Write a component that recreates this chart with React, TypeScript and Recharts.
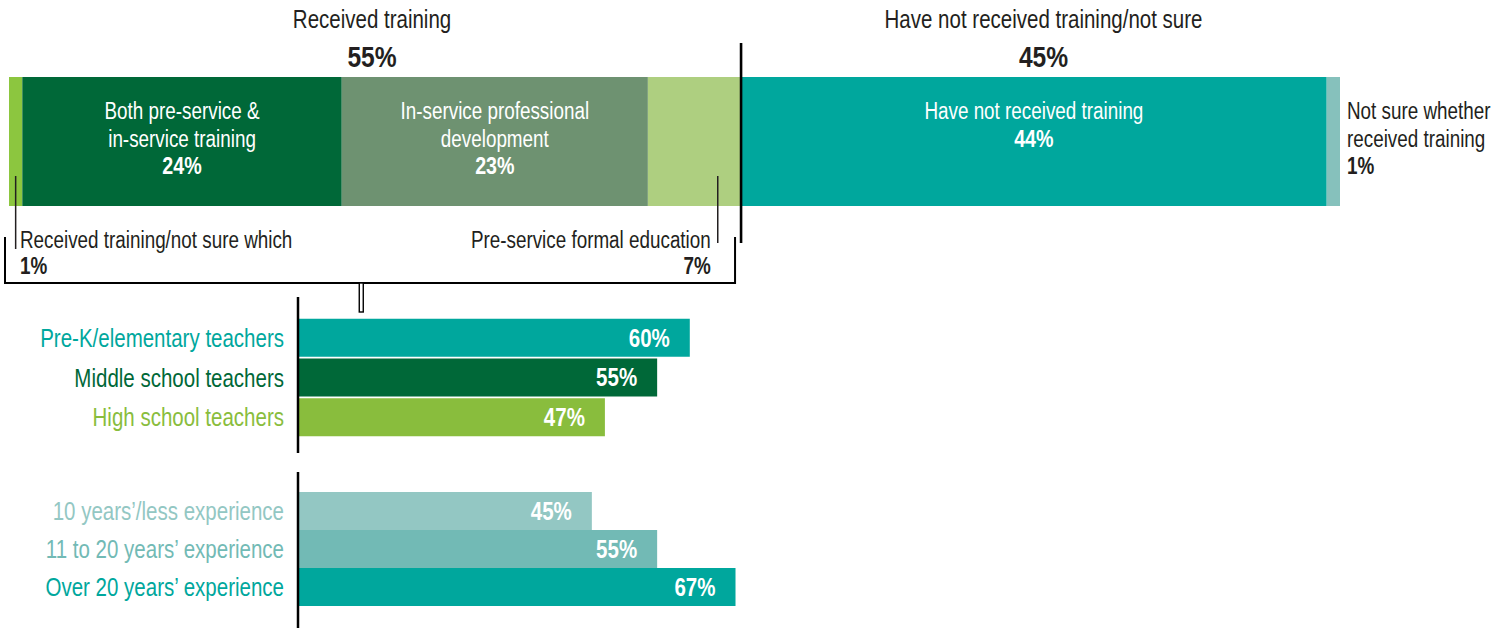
import { BarChart, Bar, XAxis, YAxis, Cell, LabelList } from 'recharts';

// condensed look: Liberation Sans squeezed horizontally
const FONT = "'Liberation Sans', Arial, sans-serif";
const SQUEEZE = 0.82;
const INK = '#231f20';

// top stacked bar: all teachers
const topKeys = ['unsureWhich', 'both', 'inService', 'preService', 'notReceived', 'unsureWhether'];
const topValues = [1, 24, 23, 7, 44, 1];
const topColors = ['#8cc63f', '#006838', '#6e9271', '#aecf80', '#00a79d', '#86c1bc'];
const topInside = [
  [],
  ['Both pre-service &', 'in-service training'],
  ['In-service professional', 'development'],
  [],
  ['Have not received training'],
  [],
];
const topOutside = [
  ['Received training/not sure which'],
  [],
  [],
  ['Pre-service formal education'],
  [],
  ['Not sure whether', 'received training'],
];
const groupTitles = ['Received training', 'Have not received training/not sure'];
const groupTotals = [55, 45];

// by grade level
const levelNames = ['Pre-K/elementary teachers', 'Middle school teachers', 'High school teachers'];
const levelValues = [60, 55, 47];
const levelColors = ['#00a79d', '#006838', '#89bd3d'];

// by experience
const expNames = ['10 years\u2019/less experience', '11 to 20 years\u2019 experience', 'Over 20 years\u2019 experience'];
const expValues = [45, 55, 67];
const expColors = ['#93c7c3', '#72bab5', '#00a79d'];

const topRow: any = { name: 'All teachers' };
topKeys.forEach((k, i) => { topRow[k] = topValues[i]; });

const LINE = 27.6;

function NText({ x, y, anchor = 'start', size = 23, bold = false, fill = INK, dy, children }: any) {
  return (
    <text
      transform={`translate(${x},${y}) scale(${SQUEEZE},1)`}
      dy={dy}
      textAnchor={anchor}
      fontSize={size}
      fontWeight={bold ? 'bold' : 'normal'}
      fill={fill}
      fontFamily={FONT}
    >
      {children}
    </text>
  );
}

const renderTopLabel = (i: number) => (props: any) => {
  const vb = props.viewBox && props.viewBox.width != null ? props.viewBox : props;
  const { x, y, width, height } = vb;
  const bottom = y + height;
  const pct = `${topValues[i]}%`;
  const parts: any[] = [];

  if (topInside[i].length) {
    const cx = x + width / 2;
    topInside[i].forEach((t, k) => {
      parts.push(<NText key={`in${k}`} x={cx} y={y + 42 + k * LINE} anchor="middle" fill="#fff">{t}</NText>);
    });
    parts.push(<NText key="inp" x={cx} y={y + 42 + topInside[i].length * LINE} anchor="middle" fill="#fff" bold size={24}>{pct}</NText>);
  }

  if (i === 0) {
    const lx = x + width / 2;
    parts.push(<line key="l" x1={lx} x2={lx} y1={bottom - 30} y2={bottom + 43} stroke={INK} strokeWidth={1.5} />);
    parts.push(<NText key="o" x={x + 11} y={bottom + 42}>{topOutside[i][0]}</NText>);
    parts.push(<NText key="op" x={x + 11} y={bottom + 68} bold>{pct}</NText>);
  }

  if (i === 3) {
    const lx = x + width * 0.75;
    parts.push(<line key="l" x1={lx} x2={lx} y1={bottom - 30} y2={bottom + 37} stroke={INK} strokeWidth={1.5} />);
    parts.push(<NText key="o" x={lx - 7} y={bottom + 42} anchor="end">{topOutside[i][0]}</NText>);
    parts.push(<NText key="op" x={lx - 7} y={bottom + 68} anchor="end" bold>{pct}</NText>);
  }

  if (i === 5) {
    const tx = x + width + 7;
    topOutside[i].forEach((t, k) => {
      parts.push(<NText key={`o${k}`} x={tx} y={y + 42 + k * LINE}>{t}</NText>);
    });
    parts.push(<NText key="op" x={tx} y={y + 42 + topOutside[i].length * LINE} bold>{pct}</NText>);
  }

  if (i === 4) {
    // group titles, divider and bracket, placed with the bar's own scale
    const unit = width / topValues[4];
    const x0 = x - groupTotals[0] * unit;
    const sx = (v: number) => x0 + v * unit;
    const split = sx(groupTotals[0]);
    const end = sx(100);
    const c1 = (x0 + split) / 2;
    const c2 = (split + end) / 2;
    const left = x0 - 4;
    const right = split - 6;
    const tickX = left + (right - left) * 0.488;
    parts.push(
      <g key="ann">
        <NText x={c1 - 3} y={y - 49} anchor="middle" size={25}>{groupTitles[0]}</NText>
        <NText x={c1 - 3} y={y - 10} anchor="middle" size={30} bold>{groupTotals[0]}%</NText>
        <NText x={c2 + 3} y={y - 49} anchor="middle" size={25}>{groupTitles[1]}</NText>
        <NText x={c2 + 3} y={y - 10} anchor="middle" size={30} bold>{groupTotals[1]}%</NText>
        <line x1={split} x2={split} y1={y - 34} y2={bottom + 37} stroke="#000" strokeWidth={2.6} />
        <polyline points={`${left},${bottom + 31} ${left},${bottom + 77} ${right},${bottom + 77} ${right},${bottom + 31}`} fill="none" stroke="#000" strokeWidth={2} />
        <rect x={tickX - 2} y={bottom + 77} width={4} height={29} fill="#fff" stroke="#000" strokeWidth={1.4} />
      </g>
    );
  }
  return <g>{parts}</g>;
};

function GroupChart({ names, values, colors, top, padTop, padBottom, gap }: any) {
  const data = names.map((name: string, i: number) => ({ name, value: values[i] }));
  return (
    <div style={{ position: 'absolute', left: 0, top }}>
      <BarChart width={1503} height={156} data={data} layout="vertical" margin={{ top: 0, right: 552, bottom: 0, left: 0 }} barCategoryGap={gap}>
        <XAxis type="number" domain={[0, 100]} hide />
        <YAxis
          type="category"
          dataKey="name"
          width={298}
          interval={0}
          tickSize={0}
          tickMargin={14}
          tickLine={false}
          axisLine={{ stroke: '#000', strokeWidth: 2.5 }}
          padding={{ top: padTop, bottom: padBottom }}
          tick={(p: any) => (
            <NText x={p.x} y={p.y} dy="0.36em" anchor="end" fill={colors[p.index]} size={25}>
              {p.payload.value}
            </NText>
          )}
        />
        <Bar dataKey="value" isAnimationActive={false}>
          {data.map((d: any, i: number) => <Cell key={d.name} fill={colors[i]} />)}
          <LabelList
            dataKey="value"
            content={(p: any) => {
              const vb = p.viewBox && p.viewBox.width != null ? p.viewBox : p;
              return (
                <NText x={vb.x + vb.width - 20} y={vb.y + vb.height / 2} dy="0.36em" anchor="end" fill="#fff" size={25} bold>
                  {values[p.index]}%
                </NText>
              );
            }}
          />
        </Bar>
      </BarChart>
    </div>
  );
}

export default function App() {
  return (
    <div style={{ position: 'absolute', left: 0, top: 0, width: 1503, height: 628, background: '#fff', fontFamily: FONT, overflow: 'hidden' }}>
      <div style={{ position: 'absolute', left: 0, top: 0 }}>
        <BarChart width={1503} height={320} data={[topRow]} layout="vertical" margin={{ top: 77, right: 163, bottom: 114, left: 9 }} barCategoryGap={0}>
          <XAxis type="number" domain={[0, 100]} hide />
          <YAxis type="category" dataKey="name" hide />
          {topKeys.map((k, i) => (
            <Bar key={k} dataKey={k} stackId="all" fill={topColors[i]} isAnimationActive={false}>
              <LabelList dataKey={k} content={renderTopLabel(i)} />
            </Bar>
          ))}
        </BarChart>
      </div>
      <GroupChart names={levelNames} values={levelValues} colors={levelColors} top={297} padTop={21} padBottom={16} gap={0.8} />
      <GroupChart names={expNames} values={expValues} colors={expColors} top={472} padTop={20} padBottom={22} gap={0} />
    </div>
  );
}
